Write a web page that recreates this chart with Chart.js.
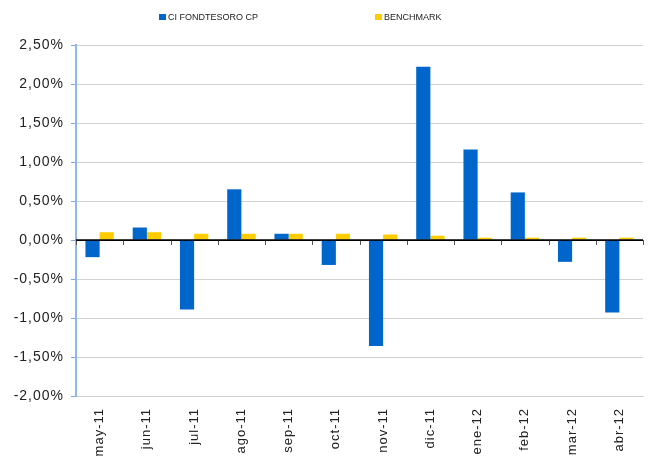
<!DOCTYPE html>
<html>
<head>
<meta charset="utf-8">
<script src="https://cdn.jsdelivr.net/npm/chart.js@4/dist/chart.umd.min.js"></script>
<style>
  html,body{margin:0;padding:0;background:#fff;}
  #wrap{position:relative;width:648px;height:459px;}
  #legend{position:absolute;top:11px;left:0;width:648px;height:14px;font-family:"Liberation Sans",Arial,sans-serif;font-size:9px;color:#222;}
  .li{position:absolute;top:0;white-space:nowrap;line-height:12px;}
  .sw{display:inline-block;width:7px;height:6px;margin-right:2px;vertical-align:0px;}
</style>
</head>
<body>
<div id="wrap">
  <canvas id="c" width="648" height="459"></canvas>
  <div id="legend"></div>
</div>
<script>
const categories = ["may-11","jun-11","jul-11","ago-11","sep-11","oct-11","nov-11","dic-11","ene-12","feb-12","mar-12","abr-12"];
const fondoValues = [-0.22, 0.16, -0.89, 0.65, 0.08, -0.32, -1.36, 2.22, 1.16, 0.61, -0.28, -0.93];
const benchmarkValues = [0.10, 0.10, 0.08, 0.08, 0.08, 0.08, 0.07, 0.055, 0.03, 0.03, 0.03, 0.03];
const seriesNames = ["CI FONDTESORO CP", "BENCHMARK"];
const seriesColors = ["#0066cc", "#ffcc00"];
const legendLefts = [159, 375];

const FONT = '"Liberation Sans", Arial, Helvetica, sans-serif';

const lg = document.getElementById('legend');
seriesNames.forEach((n, i) => {
  const d = document.createElement('div');
  d.className = 'li';
  d.style.left = legendLefts[i] + 'px';
  d.innerHTML = '<span class="sw" style="background:' + seriesColors[i] + '"></span>' + n;
  lg.appendChild(d);
});

const spacing = {
  id: 'spacing',
  afterInit(chart) { try { chart.ctx.letterSpacing = '1px'; } catch (e) {} },
  beforeDraw(chart) { try { chart.ctx.letterSpacing = '1px'; } catch (e) {} }
};

const zeroTicks = {
  id: 'zeroTicks',
  afterDatasetsDraw(chart) {
    const x = chart.scales.x, y = chart.scales.y, ctx = chart.ctx;
    const y0 = y.getPixelForValue(0);
    const n = categories.length;
    ctx.save();
    ctx.strokeStyle = '#555';
    ctx.lineWidth = 1;
    for (let i = 0; i <= n; i++) {
      let px;
      if (i === 0) px = x.left;
      else if (i === n) px = x.right;
      else px = (x.getPixelForValue(i - 1) + x.getPixelForValue(i)) / 2;
      px = Math.round(px) + 0.5;
      ctx.beginPath();
      ctx.moveTo(px, y0);
      ctx.lineTo(px, y0 + 5);
      ctx.stroke();
    }
    ctx.strokeStyle = '#000';
    ctx.lineWidth = 1.5;
    ctx.beginPath();
    ctx.moveTo(x.left, y0);
    ctx.lineTo(x.right, y0);
    ctx.stroke();
    ctx.restore();
  }
};

new Chart(document.getElementById('c'), {
  type: 'bar',
  data: {
    labels: categories,
    datasets: [
      { label: seriesNames[0], data: fondoValues, backgroundColor: seriesColors[0], barPercentage: 1.0, categoryPercentage: 0.6 },
      { label: seriesNames[1], data: benchmarkValues, backgroundColor: seriesColors[1], barPercentage: 1.0, categoryPercentage: 0.6 }
    ]
  },
  options: {
    responsive: false,
    animation: false,
    layout: { padding: { top: 45, right: 5, left: 0, bottom: 0 } },
    plugins: { legend: { display: false }, tooltip: { enabled: false } },
    scales: {
      x: {
        grid: { display: false, drawTicks: false },
        border: { display: true, color: '#d0d0d0', width: 1 },
        afterFit: (s) => { s.height = 63; },
        ticks: {
          minRotation: 90, maxRotation: 90, autoSkip: false,
          padding: 12,
          color: '#222',
          font: { family: FONT, size: 13 }
        }
      },
      y: {
        min: -2, max: 2.5,
        border: { display: true, color: '#8cb8ea', width: 2 },
        afterFit: (s) => { s.width = 76; },
        grid: {
          color: (c) => c.tick && c.tick.value === 0 ? '#000' : '#d2d2d2',
          lineWidth: 1,
          tickColor: '#7aaae4',
          tickLength: 5,
          drawTicks: true
        },
        ticks: {
          stepSize: 0.5,
          padding: 7,
          color: '#222',
          font: { family: FONT, size: 14 },
          callback: (v) => v.toFixed(2).replace('.', ',') + '%'
        }
      }
    }
  },
  plugins: [spacing, zeroTicks]
});
</script>
</body>
</html>
